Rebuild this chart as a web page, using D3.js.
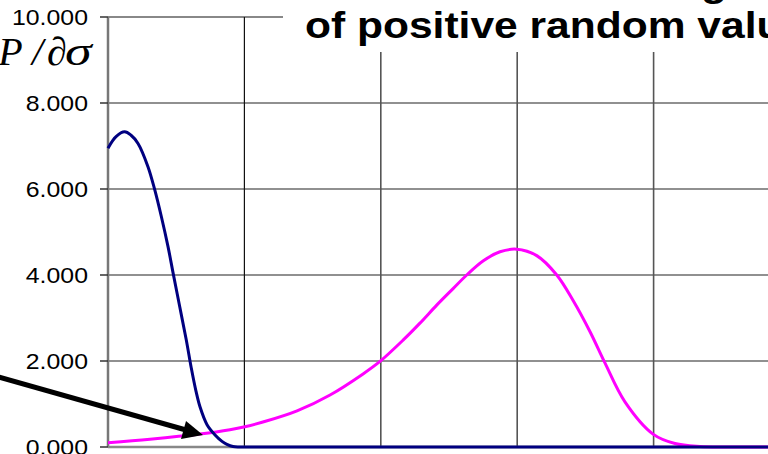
<!DOCTYPE html>
<html>
<head>
<meta charset="utf-8">
<script src="https://cdn.jsdelivr.net/npm/d3@7"></script>
<style>
body { margin: 0; background: #fff; }
svg { display: block; }
</style>
</head>
<body>
<div class="wrapper"></div>
<script>
// values, x in grid units (one unit per vertical gridline)

var navyX = [0, 0.059, 0.122, 0.169, 0.220, 0.293, 0.342, 0.391, 0.440, 0.477, 0.526, 0.574, 0.611, 0.645, 0.675, 0.726, 0.785, 0.836, 0.872, 0.916, 0.968, 1.2, 2, 3, 4, 5];
var navyY = [6.95, 7.22, 7.33, 7.25, 7.06, 6.52, 5.99, 5.36, 4.66, 4.05, 3.26, 2.49, 1.83, 1.3, 0.93, 0.52, 0.28, 0.13, 0.06, 0.01, 0, 0, 0, 0, 0, 0];

var magentaX = [0, 0.308, 0.674, 0.894, 1.004, 1.136, 1.386, 1.628, 1.870, 1.994, 2.165, 2.287, 2.410, 2.532, 2.630, 2.752, 2.874, 2.996, 3.143, 3.290, 3.411, 3.534, 3.644, 3.790, 3.996, 4.157, 4.340, 4.560, 5];
var magentaY = [0.1, 0.18, 0.3, 0.4, 0.47, 0.58, 0.84, 1.21, 1.7, 1.99, 2.49, 2.88, 3.3, 3.69, 4.0, 4.33, 4.54, 4.6, 4.45, 4.0, 3.4, 2.68, 1.95, 1.05, 0.3, 0.08, 0.01, 0, 0];

var yTicks = [0, 2, 4, 6, 8, 10];
var xGrid = [1, 2, 3, 4];
var titleLines = ["Distribution when summing", "of positive random values"];

var svgWidth = 768;
var svgHeight = 454;
var left = 108;
var top_ = 17;
var bottom = 447;
var stretch = 1.13; // the original chart was stretched sideways

var svg = d3.select(".wrapper").append("svg")
    .attr("width", svgWidth)
    .attr("height", svgHeight);

var x = d3.scaleLinear().domain([0, 5]).range([left, left + 5 * 136.4]);
var y = d3.scaleLinear().domain([0, 10]).range([bottom, top_]);

// horizontal gridlines
svg.selectAll(".hgrid")
    .data(yTicks.filter(function(d) { return d > 0 && d < 10; }))
    .enter()
    .append("line")
    .attr("x1", left)
    .attr("x2", svgWidth)
    .attr("y1", function(d) { return y(d); })
    .attr("y2", function(d) { return y(d); })
    .attr("stroke", "#222")
    .attr("stroke-width", 1.2);

// top line is grey
svg.append("line")
    .attr("x1", left).attr("x2", svgWidth)
    .attr("y1", y(10)).attr("y2", y(10))
    .attr("stroke", "#888")
    .attr("stroke-width", 2.2);

// vertical gridlines
svg.selectAll(".vgrid")
    .data(xGrid)
    .enter()
    .append("line")
    .attr("x1", function(d) { return x(d); })
    .attr("x2", function(d) { return x(d); })
    .attr("y1", y(10))
    .attr("y2", bottom)
    .attr("stroke", function(d) { return d == 1 ? "#111" : "#555"; })
    .attr("stroke-width", function(d) { return d == 1 ? 1.2 : 1.6; });

// axes lines
svg.append("line")
    .attr("x1", left).attr("x2", left)
    .attr("y1", y(10)).attr("y2", bottom)
    .attr("stroke", "#777")
    .attr("stroke-width", 2.5);
svg.append("line")
    .attr("x1", left).attr("x2", svgWidth)
    .attr("y1", bottom).attr("y2", bottom)
    .attr("stroke", "#888")
    .attr("stroke-width", 2.5);

// y ticks and labels
svg.selectAll(".ytick")
    .data(yTicks)
    .enter()
    .append("line")
    .attr("x1", left - 8)
    .attr("x2", left)
    .attr("y1", function(d) { return y(d); })
    .attr("y2", function(d) { return y(d); })
    .attr("stroke", "#333")
    .attr("stroke-width", 1.5);

svg.selectAll(".ylab")
    .data(yTicks)
    .enter()
    .append("text")
    .attr("transform", function(d) {
        return "translate(88," + (y(d) + 8) + ") scale(" + stretch + ",1)";
    })
    .attr("text-anchor", "end")
    .attr("font-family", "Liberation Sans, Arial, sans-serif")
    .attr("font-size", 22)
    .attr("fill", "#000")
    .text(function(d) { return d3.format(".3f")(d); });

// curves
var line = d3.line()
    .x(function(d) { return x(d[0]); })
    .y(function(d) { return y(d[1]); })
    .curve(d3.curveCatmullRom.alpha(0.5));

svg.append("path")
    .datum(d3.zip(magentaX, magentaY))
    .attr("d", line)
    .attr("fill", "none")
    .attr("stroke", "#ff00ff")
    .attr("stroke-width", 3);

svg.append("path")
    .datum(d3.zip(navyX, navyY))
    .attr("d", line)
    .attr("fill", "none")
    .attr("stroke", "#000080")
    .attr("stroke-width", 3);

// title box (covers the grid behind it)
svg.append("rect")
    .attr("x", 283).attr("y", 0)
    .attr("width", svgWidth - 283).attr("height", 52)
    .attr("fill", "#fff");

svg.append("text")
    .attr("transform", "translate(727,-4) scale(1.15,1)")
    .attr("text-anchor", "end")
    .attr("font-family", "Liberation Sans, Arial, sans-serif")
    .attr("font-weight", "bold")
    .attr("font-size", 37)
    .text(titleLines[0]);

svg.append("text")
    .attr("transform", "translate(305,38) scale(1.15,1)")
    .attr("font-family", "Liberation Sans, Arial, sans-serif")
    .attr("font-weight", "bold")
    .attr("font-size", 37)
    .text(titleLines[1]);

// y axis label, dP / d sigma, the sigma drawn wide like the original
var serif = "Liberation Serif, Times New Roman, serif";
svg.append("text")
    .attr("x", 43)
    .attr("y", 65)
    .attr("text-anchor", "end")
    .attr("font-family", serif)
    .attr("font-style", "italic")
    .attr("font-size", 40)
    .text("\u2202P /");
svg.append("text")
    .attr("x", 47)
    .attr("y", 65)
    .attr("font-family", serif)
    .attr("font-style", "italic")
    .attr("font-size", 40)
    .text("\u2202");
svg.append("text")
    .attr("transform", "translate(65,65) scale(1.35,1)")
    .attr("font-family", serif)
    .attr("font-style", "italic")
    .attr("font-size", 40)
    .text("\u03c3");

// arrow pointing at the crossing
svg.append("line")
    .attr("x1", -5).attr("y1", 376)
    .attr("x2", 186).attr("y2", 430)
    .attr("stroke", "#000")
    .attr("stroke-width", 5);
svg.append("polygon")
    .attr("points", "203,435 186,421 181,439")
    .attr("fill", "#000");
</script>
</body>
</html>
